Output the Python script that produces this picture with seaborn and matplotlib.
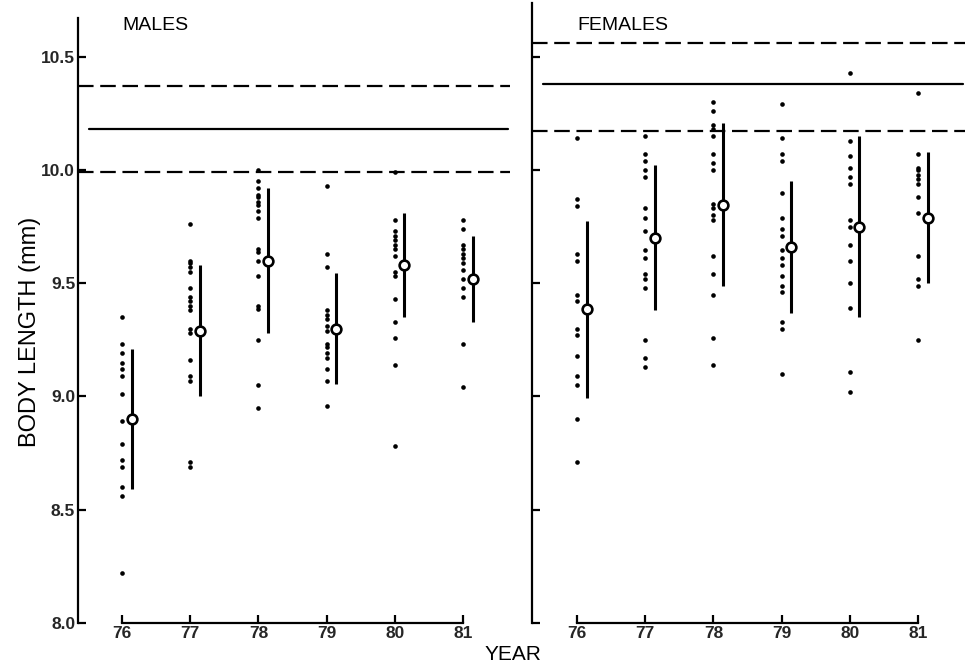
import matplotlib
matplotlib.use("Agg")
import matplotlib.pyplot as plt
import matplotlib.font_manager as fm
import seaborn as sns
import pandas as pd
import numpy as np

# ---------------- data ----------------
years = [76, 77, 78, 79, 80, 81]

males_76 = [9.35, 9.23, 9.19, 9.15, 9.12, 9.09, 9.01, 8.89, 8.79, 8.72, 8.69, 8.60, 8.56, 8.22]
males_77 = [9.76, 9.60, 9.59, 9.57, 9.55, 9.48, 9.44, 9.42, 9.40, 9.38, 9.30, 9.28, 9.16, 9.09, 9.07, 8.71, 8.69]
males_78 = [10.00, 9.95, 9.92, 9.89, 9.88, 9.86, 9.845, 9.82, 9.79, 9.65, 9.64, 9.60, 9.53, 9.40, 9.385, 9.25, 9.05, 8.95]
males_79 = [9.93, 9.63, 9.57, 9.38, 9.36, 9.34, 9.31, 9.29, 9.23, 9.22, 9.19, 9.17, 9.12, 9.07, 8.96]
males_80 = [9.99, 9.78, 9.73, 9.71, 9.69, 9.67, 9.65, 9.62, 9.55, 9.53, 9.43, 9.33, 9.26, 9.14, 8.78]
males_81 = [9.78, 9.74, 9.67, 9.65, 9.63, 9.61, 9.59, 9.56, 9.52, 9.48, 9.44, 9.23, 9.04]

females_76 = [10.14, 9.87, 9.84, 9.63, 9.60, 9.45, 9.42, 9.30, 9.27, 9.18, 9.09, 9.05, 8.90, 8.71]
females_77 = [10.15, 10.07, 10.04, 10.00, 9.97, 9.83, 9.79, 9.73, 9.645, 9.61, 9.54, 9.52, 9.48, 9.25, 9.17, 9.13]
females_78 = [10.30, 10.26, 10.20, 10.18, 10.15, 10.07, 10.03, 10.00, 9.85, 9.83, 9.80, 9.78, 9.62, 9.54, 9.45, 9.26, 9.14]
females_79 = [10.29, 10.14, 10.07, 10.04, 9.90, 9.79, 9.74, 9.71, 9.645, 9.61, 9.58, 9.53, 9.49, 9.46, 9.33, 9.30, 9.10]
females_80 = [10.43, 10.13, 10.06, 10.01, 9.97, 9.94, 9.78, 9.75, 9.67, 9.60, 9.50, 9.39, 9.11, 9.02]
females_81 = [10.34, 10.07, 10.01, 10.00, 9.98, 9.96, 9.94, 9.88, 9.81, 9.62, 9.52, 9.49, 9.25]

males_mean = [8.90, 9.29, 9.60, 9.30, 9.58, 9.52]
males_sd = [0.31, 0.29, 0.32, 0.245, 0.23, 0.19]
females_mean = [9.385, 9.70, 9.846, 9.66, 9.75, 9.79]
females_sd = [0.39, 0.32, 0.36, 0.29, 0.40, 0.29]

males_ref = [10.18, 9.99, 10.37]     # solid, lower dashed, upper dashed
females_ref = [10.38, 10.17, 10.56]

y_ticks = [8.0, 8.5, 9.0, 9.5, 10.0, 10.5]
y_ticklabels = ["8.0", "8.5", "9.0", "9.5", "10.0", "10.5"]
x_ticklabels = ["76", "77", "78", "79", "80", "81"]

# ---------------- fonts ----------------
sns.set_theme(style="white")
names = {f.name for f in fm.fontManager.ttflist}
main_font = "DejaVu Sans"
for cand in ["Liberation Sans Narrow", "Liberation Sans", "Roboto"]:
    if cand in names:
        main_font = cand
        break
plt.rcParams["font.family"] = [main_font, "DejaVu Sans"]

def long_df(groups):
    rows = []
    for yr, vals in zip(years, groups):
        for v in vals:
            rows.append((yr, v))
    return pd.DataFrame(rows, columns=["year", "length"])

males_df = long_df([males_76, males_77, males_78, males_79, males_80, males_81])
females_df = long_df([females_76, females_77, females_78, females_79, females_80, females_81])

W, H = 965, 672
fig = plt.figure(figsize=(W / 100, H / 100), dpi=100)

px = 227.6  # pixels per mm
y_top = 10.5 + (57 - 3) / px
ax_bottom = (H - 623) / H
ax_height = 620 / H

ax_m = fig.add_axes([78 / W, ax_bottom, (510 - 78) / W, ax_height])
ax_f = fig.add_axes([532 / W, ax_bottom, (W - 532) / W, ax_height])

yr_px = 68.2
limits = {ax_m: (76 - 44 / yr_px, 81 + 47 / yr_px), ax_f: (76 - 45 / yr_px, 81 + 47 / yr_px)}

for ax, df, means, sds, refs in [(ax_m, males_df, males_mean, males_sd, males_ref),
                                  (ax_f, females_df, females_mean, females_sd, females_ref)]:
    ax.set_facecolor("none")
    # reference lines
    ax.axhline(refs[0], xmin=0.025, xmax=0.995, color="black", lw=1.6)
    for r in refs[1:]:
        ax.axhline(r, xmin=0.0, xmax=1.0, color="black", lw=1.6, dashes=(7, 3))
    # individual dots
    sns.scatterplot(data=df, x="year", y="length", ax=ax, s=11, color="black",
                    linewidth=0, legend=False, zorder=3)
    # mean +- sd
    xm = np.array(years) + 0.14
    ax.errorbar(xm, means, yerr=sds, fmt="o", color="black", ecolor="black",
                elinewidth=2.2, capsize=0, markersize=7, markerfacecolor="white",
                markeredgecolor="black", markeredgewidth=1.9, zorder=4)
    ax.set_xlim(*limits[ax])
    ax.set_ylim(8.0, y_top)
    ax.set_xlabel("")
    ax.set_ylabel("")
    ax.set_xticks(years)
    ax.set_xticklabels(x_ticklabels, fontsize=12.5, fontweight="bold")
    ax.set_yticks(y_ticks)
    ax.spines["top"].set_visible(False)
    ax.spines["right"].set_visible(False)
    for s in ["left", "bottom"]:
        ax.spines[s].set_visible(True)
        ax.spines[s].set_color("black")
        ax.spines[s].set_linewidth(1.6)
    ax.spines["bottom"].set_bounds(76, 81)
    ax.tick_params(axis="both", direction="in", length=6, width=1.6, color="black",
                   bottom=True, left=True, pad=2)
    ax.grid(False)

ax_m.spines["left"].set_bounds(8.0, 10.5 + (57 - 18) / px)
ax_f.spines["left"].set_bounds(8.0, y_top)
ax_m.set_yticklabels(y_ticklabels, fontsize=12.5, fontweight="bold")
ax_f.set_yticklabels([])

fig.text(30 / W, 1 - 332 / H, "BODY LENGTH (mm)", rotation=90, ha="center", va="center",
         fontsize=17, color="black")
fig.text(122 / W, 1 - 25 / H, "MALES", ha="left", va="center", fontsize=14, color="black")
fig.text(577 / W, 1 - 25 / H, "FEMALES", ha="left", va="center", fontsize=14, color="black")
fig.text(485 / W, 1 - 655 / H, "YEAR", ha="left", va="center", fontsize=15, color="black")

fig.savefig("out.png", dpi=100, facecolor="white")
